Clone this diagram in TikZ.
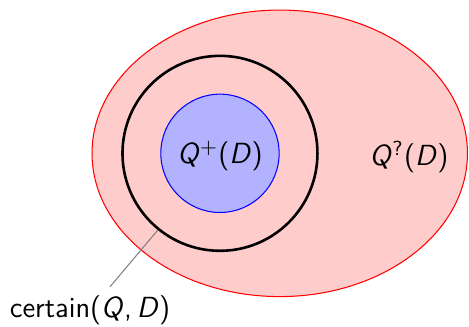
\documentclass[tikz,border=0pt]{standalone}
\tikzset{every picture/.style={line width=0.4pt}}
\newcommand{\sv}[1]{\textit{#1}\/}
\begin{document}
\begin{tikzpicture}[x=1cm,y=1cm,font=\sffamily\fontsize{11.2}{13}\selectfont]
\useasboundingbox (0,0) rectangle (6.341,4.408);
\draw[red,fill=red!20] (3.782,2.335) ellipse [x radius=2.538, y radius=1.937];
\node[circle,draw=blue,fill=blue!30,minimum size=1.6cm,inner sep=0pt] (qplusdisk) at (2.974,2.335) {};
\node[circle,draw,line width=1pt,minimum size=2.636cm,inner sep=0pt] (certdisk) at (2.974,2.335) {};
\node (qplus) at (2.974,2.30) {\sv{Q}\textsuperscript{+}(\sv{D})};
\node (qunk) at (5.53,2.285) {\sv{Q}\textsuperscript{?}(\sv{D})};
\node (cert) at (1.217,0.21) {certain(\sv{Q},\,\sv{D})};
\draw[gray] (cert) -- (certdisk.231);
\end{tikzpicture}
\end{document}
